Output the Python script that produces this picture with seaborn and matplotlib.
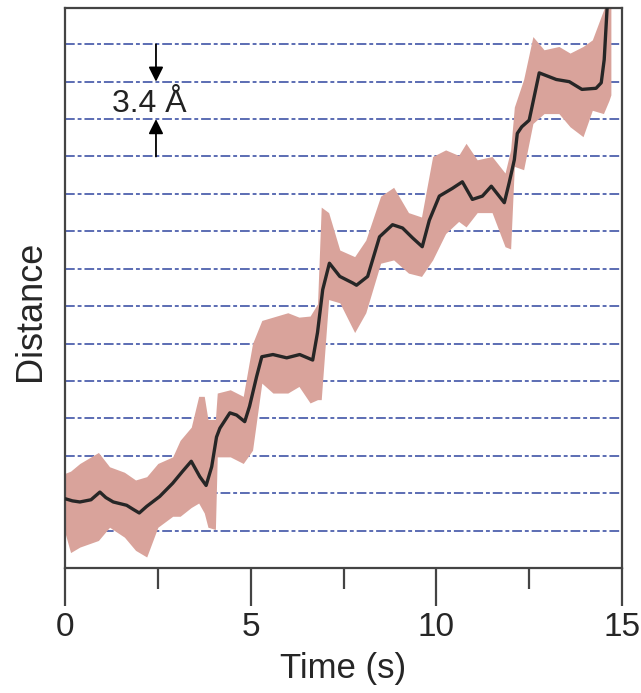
import numpy as np
import matplotlib
matplotlib.use("Agg")
import matplotlib.pyplot as plt
import seaborn as sns

# %% Data (time in s, distance in Å)
step_size = 3.4
n_levels = 14

trace_t = [0.0, 0.2, 0.4, 0.7, 0.94, 1.1, 1.3, 1.66, 1.85, 2.0, 2.2, 2.55, 2.9,
           3.17, 3.4, 3.63, 3.8, 3.95, 4.08, 4.17, 4.44, 4.62, 4.84, 4.97, 5.16,
           5.3, 5.6, 5.97, 6.32, 6.67, 6.8, 6.94, 7.12, 7.4, 7.75, 7.85, 8.15,
           8.47, 8.82, 9.09, 9.36, 9.62, 9.81, 10.08, 10.43, 10.7, 10.97, 11.24,
           11.48, 11.69, 11.83, 11.96, 12.1, 12.18, 12.3, 12.5, 12.77, 13.23,
           13.58, 13.92, 14.3, 14.44, 14.52, 14.6]
trace_d = [6.3, 6.1, 6.0, 6.2, 6.9, 6.4, 6.0, 5.7, 5.3, 5.0, 5.6, 6.5, 7.7,
           8.8, 9.7, 8.3, 7.5, 9.2, 11.9, 12.7, 14.1, 13.9, 13.3, 14.7, 17.4,
           19.2, 19.4, 19.1, 19.4, 18.9, 21.4, 25.3, 27.7, 26.5, 25.9, 25.7, 26.5,
           30.1, 31.2, 30.9, 30.0, 29.2, 31.6, 33.8, 34.5, 35.1, 33.5, 33.8,
           34.7, 33.8, 33.2, 35.0, 37.1, 39.5, 40.1, 40.7, 45.0, 44.4,
           44.2, 43.5, 43.6, 44.1, 46.2, 51.0]

band_t = [0.0, 0.15, 0.4, 0.9, 1.2, 1.6, 1.9, 2.2, 2.5, 2.9, 3.1, 3.4, 3.6,
          3.75, 3.85, 4.05, 4.1, 4.45, 4.8, 5.05, 5.3, 5.6, 6.0, 6.3, 6.6, 6.8,
          6.9, 7.1, 7.4, 7.8, 8.1, 8.5, 8.85, 9.25, 9.6, 9.9, 10.25, 10.6, 10.8,
          11.1, 11.5, 11.85, 12.0, 12.1, 12.35, 12.6, 12.9, 13.3, 13.6, 13.95,
          14.2, 14.5, 14.65, 14.7]
band_lo = [3.2, 1.4, 1.9, 2.5, 3.7, 2.8, 1.6, 1.0, 3.7, 4.7, 4.7, 5.5, 5.9,
           5.0, 3.7, 3.5, 10.1, 10.1, 9.5, 10.7, 16.8, 15.9, 15.9, 16.5, 15.0, 15.3,
           15.3, 24.4, 24.1, 21.4, 23.2, 27.7, 28.0, 26.8, 26.5, 28.0, 30.4, 31.5, 31.0,
           32.3, 32.3, 29.2, 29.0, 36.5, 36.2, 40.4, 41.3, 41.3, 40.1, 39.2,
           41.6, 41.3, 42.5, 43.0]
band_hi = [8.6, 8.8, 9.5, 10.5, 9.2, 8.7, 8.0, 8.3, 9.5, 10.1, 11.6, 12.8, 15.6,
           15.6, 13.5, 13.5, 15.9, 16.2, 15.6, 20.4, 22.5, 22.8, 23.2, 22.8, 22.9, 24.0,
           32.8, 32.3, 28.9, 28.3, 29.8, 33.8, 34.6, 32.3, 31.9, 37.4, 38.0, 37.5, 38.6,
           37.1, 37.4, 35.9, 38.0, 41.9, 44.4, 48.3, 47.1, 47.4, 46.8, 47.4,
           48.0, 50.7, 52.0, 52.0]

x_major = [0, 5, 10, 15]
x_minor = [2.5, 7.5, 12.5]

# %% Plot
sns.set_theme(style="white")
plt.rcParams["font.family"] = ["Liberation Sans", "DejaVu Sans"]

fig = plt.figure(figsize=(6.41, 6.93), dpi=100)
ax = fig.add_axes([0.1014, 0.1804, 0.8690, 0.8081])

# base-pair spacing guides
for k in range(1, n_levels + 1):
    ax.axhline(k * step_size, color="#5b6cb3", lw=1.4,
               linestyle=(0, (5, 1.5, 2, 1.5)), zorder=1)

ax.fill_between(band_t, band_lo, band_hi, color="#d9a39b", lw=0, zorder=2)
sns.lineplot(x=trace_t, y=trace_d, ax=ax, color="#262626", lw=2.4, zorder=3)

# 3.4 Å marker
arrow_x = 2.45
ax.annotate("", xy=(arrow_x, 13 * step_size), xytext=(arrow_x, 14 * step_size),
            arrowprops=dict(arrowstyle="-|>", color="black", lw=1.3,
                            mutation_scale=22, shrinkA=0, shrinkB=0), zorder=4)
ax.annotate("", xy=(arrow_x, 12 * step_size), xytext=(arrow_x, 11 * step_size),
            arrowprops=dict(arrowstyle="-|>", color="black", lw=1.3,
                            mutation_scale=22, shrinkA=0, shrinkB=0), zorder=4)
ax.text(2.27, 41.4, "3.4 Å", ha="center", va="baseline", fontsize=23,
        color="#222222", zorder=5)

ax.set_xlim(0, 15)
ax.set_ylim(0, 50.9)
ax.set_xticks(x_major)
ax.set_xticks(x_minor, minor=True)
ax.set_yticks([])
ax.tick_params(axis="x", which="major", direction="out", length=27, width=1.6,
               color="#444444", labelsize=24, pad=5, bottom=True)
ax.tick_params(axis="x", which="minor", direction="out", length=15, width=1.6,
               color="#444444", bottom=True)
for s in ax.spines.values():
    s.set_color("#444444")
    s.set_linewidth(1.6)

ax.set_xlabel("Time (s)", fontsize=25, labelpad=6)
ax.set_ylabel("Distance", fontsize=26)
ax.yaxis.set_label_coords(-0.030, 0.46)

fig.savefig("out.png", dpi=100)
